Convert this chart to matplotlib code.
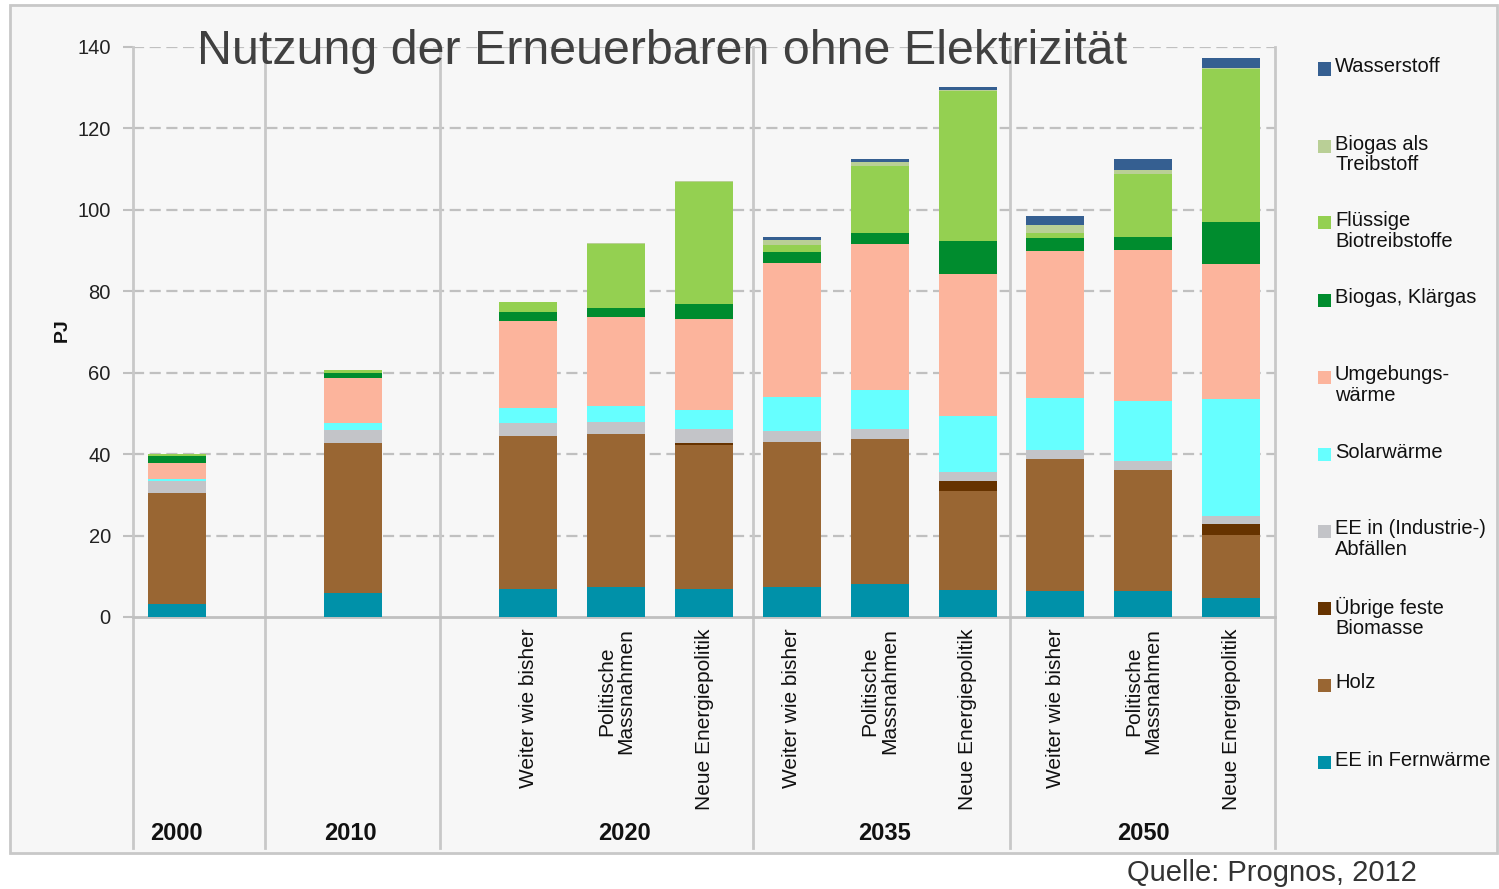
import numpy as np
import matplotlib
matplotlib.use("Agg")
import matplotlib.pyplot as plt
from matplotlib.patches import Rectangle
import matplotlib.transforms as mtransforms

plt.rcParams['font.family'] = ['Liberation Sans', 'DejaVu Sans']

# bars: 2000, 2010, then 3 scenarios for 2020 / 2035 / 2050
scenarios = ['', '',
             'Weiter wie bisher', 'Politische\nMassnahmen', 'Neue Energiepolitik',
             'Weiter wie bisher', 'Politische\nMassnahmen', 'Neue Energiepolitik',
             'Weiter wie bisher', 'Politische\nMassnahmen', 'Neue Energiepolitik']
years = ['2000', '2010', '2020', '2035', '2050']

# PJ, bottom to top
fernwaerme = [3.3, 5.8, 7.0, 7.4, 7.0, 7.3, 8.1, 6.6, 6.5, 6.5, 4.7]
holz = [27.2, 37.0, 37.5, 37.6, 35.3, 35.7, 35.5, 24.4, 32.2, 29.5, 15.4]
uebrige = [0, 0, 0, 0, 0.5, 0, 0, 2.3, 0, 0, 2.7]
abfaelle = [2.9, 3.1, 3.1, 3.0, 3.3, 2.7, 2.6, 2.2, 2.3, 2.3, 2.0]
solar = [0.4, 1.7, 3.8, 3.8, 4.8, 8.4, 9.6, 13.8, 12.9, 14.7, 28.7]
umgebung = [4.0, 11.1, 21.4, 22.0, 22.2, 32.8, 35.7, 34.9, 35.9, 37.2, 33.1]
biogas = [1.7, 1.3, 2.0, 2.0, 3.7, 2.7, 2.8, 8.1, 3.3, 3.1, 10.4]
fluessig = [0.5, 0.6, 2.5, 15.8, 30.0, 1.8, 16.4, 36.8, 1.3, 15.5, 37.6]
biogas_treib = [0, 0, 0, 0.2, 0.2, 1.1, 1.0, 0.4, 1.9, 1.1, 0.3]
wasserstoff = [0, 0, 0, 0, 0, 0.8, 0.9, 0.6, 2.1, 2.5, 2.5]

series = [fernwaerme, holz, uebrige, abfaelle, solar, umgebung, biogas,
          fluessig, biogas_treib, wasserstoff]
labels = ['EE in Fernwärme', 'Holz', 'Übrige feste\nBiomasse',
          'EE in (Industrie-)\nAbfällen', 'Solarwärme', 'Umgebungs-\nwärme',
          'Biogas, Klärgas', 'Flüssige\nBiotreibstoffe', 'Biogas als\nTreibstoff',
          'Wasserstoff']
colors = ['#0091a9', '#996633', '#663300', '#c3c4c8', '#66ffff', '#fcb49c',
          '#008c2e', '#94d051', '#b9cf96', '#355f91']

W, H = 1499, 889
fig = plt.figure(figsize=(W / 100, H / 100), dpi=100)
fig.patch.set_facecolor('white')

def px(x, y):
    return x / W, 1 - y / H

# grey framed background
fig.add_artist(Rectangle(px(10, 853), 1487 / W, 848 / H, transform=fig.transFigure,
                         facecolor='#f7f7f7', edgecolor='#c8c8c8', lw=2, zorder=0))

ax = fig.add_axes([133 / W, 1 - 617 / H, 1142 / W, 570 / H])
ax.set_facecolor('none')

xpos = np.array([0, 2, 4, 5, 6, 7, 8, 9, 10, 11, 12])
bottom = np.zeros(len(xpos))
for vals, col in zip(series, colors):
    ax.bar(xpos, vals, width=0.66, bottom=bottom, color=col, lw=0, zorder=3)
    bottom += np.array(vals)

ax.set_xlim(-0.5, 12.5)
ax.set_ylim(0, 140)
ax.set_yticks(np.arange(0, 141, 20))
ax.tick_params(axis='y', length=7, width=1.5, color='#c0c0c0', labelsize=14.5,
               pad=9, labelcolor='#222222')
ax.set_xticks([])
for s in ['top', 'right', 'left']:
    ax.spines[s].set_visible(False)
ax.spines['bottom'].set_color('#c0c0c0')
ax.spines['bottom'].set_linewidth(2)
for yv in range(20, 141, 20):
    ax.axhline(yv, color='#c0c0c0', lw=1.6, ls=(0, (5, 2.5)), zorder=1)

# vertical separators reaching into the label area
for xv in [-0.5, 1, 3, 6.56, 9.48, 12.5]:
    ax.axvline(xv, ymin=-0.405, ymax=1.0, color='#c8c8c8', lw=2, clip_on=False, zorder=2)

trans = mtransforms.blended_transform_factory(ax.transData, ax.transAxes)
for x, lab in zip(xpos, scenarios):
    if lab:
        ax.text(x, -0.02, lab, rotation=90, ha='center', va='top', fontsize=15,
                multialignment='center', linespacing=1.05, transform=trans, color='#111111')
for x, yr in zip([0, 1.97, 5.1, 8.05, 11], years):
    ax.text(x, -0.38, yr, ha='center', va='center', fontsize=17, fontweight='bold',
            transform=trans, color='#111111')

fig.text(*px(62, 330), 'PJ', rotation=90, ha='center', va='center',
         fontsize=14, fontweight='bold', color='#111111')

fig.text(*px(662, 52), 'Nutzung der Erneuerbaren ohne Elektrizität', ha='center',
         va='center', fontsize=34.8, color='#404040', zorder=5)

fig.text(*px(1272, 873), 'Quelle: Prognos, 2012', ha='center', va='center',
         fontsize=21, color='#333333')

# legend, top entry first
for i, (lab, col) in enumerate(zip(labels[::-1], colors[::-1])):
    yc = 69 + 77 * i
    fig.add_artist(Rectangle(px(1318, yc + 6.5), 13 / W, 13 / H, transform=fig.transFigure,
                             facecolor=col, lw=0))
    fig.text(*px(1335, yc - 11.5), lab, ha='left', va='top', fontsize=14.5,
             linespacing=1.12, color='#111111')

fig.savefig('out.png', dpi=100, facecolor=fig.get_facecolor())
